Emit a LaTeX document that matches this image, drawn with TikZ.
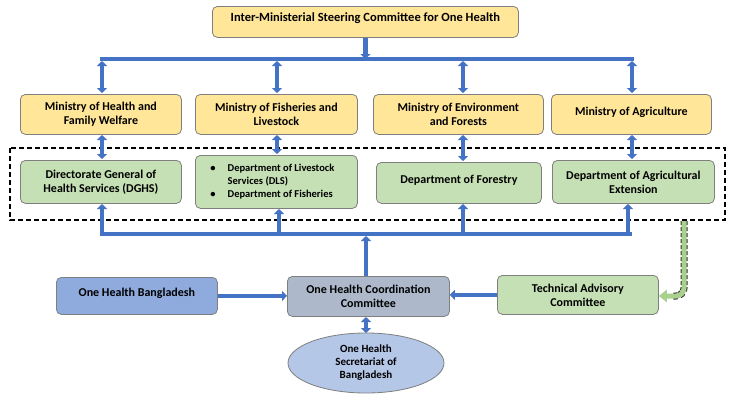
\documentclass[tikz,border=0pt]{standalone}
\usepackage{fontspec}
\setmainfont{Carlito}
\usetikzlibrary{arrows.meta,shapes.geometric,calc}
\definecolor{ylw}{HTML}{FFE699}
\definecolor{grn}{HTML}{C5E0B4}
\definecolor{grn2}{HTML}{A9D18E}
\definecolor{bdr}{HTML}{7F7F7F}
\definecolor{arr}{HTML}{4472C4}
\definecolor{ohb}{HTML}{8FAADC}
\definecolor{ohc}{HTML}{ADB9CA}
\definecolor{ell}{HTML}{B4C7E7}
\begin{document}
\begin{tikzpicture}[x=1pt,y=-1pt,
  box/.style={draw=bdr,line width=0.8pt,rounded corners=5pt,align=center,font=\bfseries\fontsize{12}{14}\selectfont,inner sep=2pt},
  ybox/.style={box,fill=ylw},
  gbox/.style={box,fill=grn},
  bline/.style={draw=arr,line width=4.5pt},
  sarr/.style={arr,line width=4.5pt,-{Triangle[width=10pt,length=5pt]}},
  darr/.style={arr,line width=4.5pt,{Triangle[width=10pt,length=5pt]}-{Triangle[width=10pt,length=5pt]}},
]
\useasboundingbox (0,0) rectangle (748,405);
\fill[white] (0,0) rectangle (748,405);

\node[ybox,minimum width=306pt,minimum height=31pt,anchor=north west,text depth=9pt,font=\bfseries\fontsize{12.5}{14}\selectfont] (top) at (212,6) {Inter-Ministerial Steering Committee for One Health};

\node[ybox,minimum width=161pt,minimum height=40pt,anchor=north west] (m1) at (20,94) {Ministry of Health and\\Family Welfare};
\node[ybox,minimum width=162pt,minimum height=40pt,anchor=north west] (m2) at (195,94) {Ministry of Fisheries and\\Livestock};
\node[ybox,minimum width=170pt,minimum height=40pt,anchor=north west] (m3) at (373,94) {Ministry of Environment\\and Forests};
\node[ybox,minimum width=160pt,minimum height=40pt,anchor=north west,text depth=7pt] (m4) at (551,94) {Ministry of Agriculture};

\draw[black,line width=1.2pt,dash pattern=on 5pt off 3pt] (10,148) rectangle (725,220);

\node[gbox,minimum width=161pt,minimum height=43pt,anchor=north west] (d1) at (20,160) {Directorate General of\\Health Services (DGHS)};
\node[gbox,minimum width=162pt,minimum height=53pt,anchor=north west,font=\bfseries\fontsize{10.5}{13}\selectfont] (d2) at (195,155) {\begin{tabular}{@{}l@{\hspace{12pt}}l@{}}\textbullet & Department of Livestock\\ & Services (DLS)\\ \textbullet & Department of Fisheries\end{tabular}\hspace{8pt}};
\node[gbox,minimum width=165pt,minimum height=41pt,anchor=north west,text depth=7pt] (d3) at (376,162) {Department of Forestry};
\node[gbox,minimum width=162pt,minimum height=43pt,anchor=north west] (d4) at (552,160) {Department of Agricultural\\Extension};

\node[box,fill=ohb,minimum width=161pt,minimum height=37pt,anchor=north west,text depth=7pt] (ohb) at (56,277) {One Health Bangladesh};
\node[box,fill=ohc,minimum width=162pt,minimum height=40pt,anchor=north west] (ohc) at (287,276) {One Health Coordination\\Committee};
\node[gbox,minimum width=161pt,minimum height=39pt,anchor=north west] (tac) at (497,275) {Technical Advisory\\Committee};
\node[ellipse,draw=bdr,line width=0.8pt,fill=ell,minimum width=156pt,minimum height=60pt,align=center,font=\bfseries\fontsize{11}{13}\selectfont,inner sep=0pt] (sec) at (366,363) {One Health\\Secretariat of\\Bangladesh};

% top bus
\coordinate (tb1) at (100,59);
\coordinate (tb2) at (634,59);
\draw[bline] (tb1) -- (tb2);
\draw[sarr] (top.south) -- (top.south |- tb1);
\foreach \x in {102,277,463,632}{
  \draw[darr] (\x,61) -- (\x,93);
}
% ministry to department
\foreach \x/\ya/\yb in {102/135/159,277/135/154,463/135/161,632/135/159}{
  \draw[darr] (\x,\ya) -- (\x,\yb);
}
% lower bus
\coordinate (lb1) at (100,234);
\coordinate (lb2) at (632,234);
\draw[bline] (lb1) -- (lb2);
\foreach \x/\y in {102/204,279/209,463/204,628/204}{
  \draw[sarr] (\x,236.25) -- (\x,\y);
}
\draw[sarr] (ohc.north -| 366,0) -- (366,236);
% bottom row
\draw[sarr] (ohb.east) -- (ohc.west |- ohb.east);
\draw[sarr] (tac.west) -- (ohc.east |- tac.west);
\draw[darr] (366,317) -- (366,333);
% green dashed arrow
\coordinate (g0) at (684,221);
\coordinate (g2) at (672,296);
\draw[black!80,line width=7pt,dash pattern=on 4pt off 2pt,rounded corners=8pt] (g0) -- (684,296) -- (g2);
\draw[grn2,line width=5pt,rounded corners=8pt,-{Triangle[width=12pt,length=8pt]}] (g0) -- (684,296) -- (tac.east |- 0,296);
\end{tikzpicture}
\end{document}
